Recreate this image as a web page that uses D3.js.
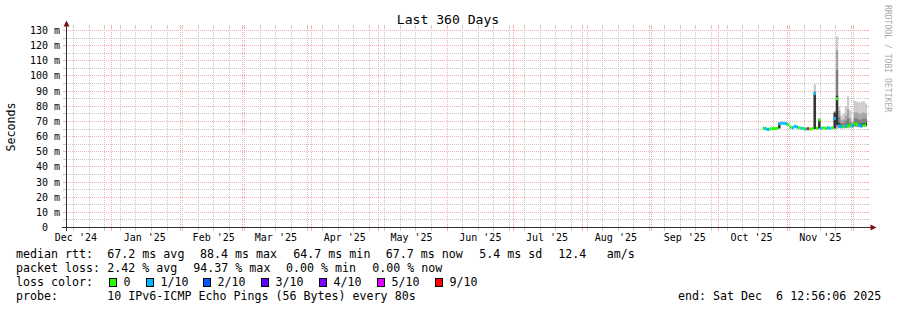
<!DOCTYPE html>
<html>
<head>
<meta charset="utf-8">
<script src="https://cdn.jsdelivr.net/npm/d3@7"></script>
<style>
  html, body { margin: 0; padding: 0; background: #fff; }
  svg { display: block; font-family: "DejaVu Sans Mono", monospace; }
  text { white-space: pre; }
</style>
</head>
<body>
<svg id="chart" width="897" height="310"></svg>
<script>
// one value per day (median rtt in ms, loss in tenths of the 10 pings)
const days = [
  "2025-10-21","2025-10-22","2025-10-23","2025-10-24","2025-10-25","2025-10-26","2025-10-27",
  "2025-10-28","2025-10-29","2025-10-30","2025-10-31","2025-11-01","2025-11-02","2025-11-03",
  "2025-11-04","2025-11-05","2025-11-06","2025-11-07","2025-11-08","2025-11-09","2025-11-10",
  "2025-11-11","2025-11-12","2025-11-13","2025-11-14","2025-11-15","2025-11-16","2025-11-17",
  "2025-11-18","2025-11-19","2025-11-20","2025-11-21","2025-11-22","2025-11-23","2025-11-24",
  "2025-11-25","2025-11-26","2025-11-27","2025-11-28","2025-11-29","2025-11-30","2025-12-01",
  "2025-12-02","2025-12-03","2025-12-04","2025-12-05","2025-12-06"
];
const median = [
  65.5, 65.2, 64.7, 65.0, 65.3, 65.3, 65.5,
  68.5, 68.8, 68.8, 68.5, 68.0, 66.3, 65.8,
  66.8, 66.3, 65.8, 65.5, 65.3, 65.0, 65.2,
  65.0, 65.3, 88.4, 65.5, 71.0, 65.5, 65.8,
  65.5, 65.8, 65.5, 65.8, 72.0, 85.0, 67.0,
  66.5, 66.5, 67.0, 67.0, 67.5, 67.0, 68.5,
  68.0, 67.5, 67.0, 67.5, 67.7
];
const lossTenths = [
  0, 1, 1, 0, 0, 0, 0,
  1, 1, 1, 1, 0, 0, 1,
  1, 1, 0, 1, 0, 1, 9,
  0, 0, 1, 0, 0, 1, 0,
  0, 1, 1, 0, 1, 0, 1,
  1, 0, 1, 0, 0, 1, 0,
  0, 1, 1, 0, 0
];

// smoke: sorted pings, outer pair .. inner pair, only days that show spread
const smokeDays = [
  "2025-10-28","2025-11-13","2025-11-15","2025-11-22","2025-11-23","2025-11-24",
  "2025-11-25","2025-11-26","2025-11-27","2025-11-28","2025-11-29","2025-11-30",
  "2025-12-01","2025-12-02","2025-12-03","2025-12-04","2025-12-05","2025-12-06"
];
const ping1  = [65.3, 64.8, 65.0, 65.2, 65.0, 65.5, 65.5, 65.5, 65.5, 65.5, 65.8, 66.0, 66.5, 66.3, 66.0, 66.0, 66.5, 66.5];
const ping10 = [69.2, 94.5, 72.0, 77.0, 126.0, 80.0, 74.0, 75.0, 80.0, 86.5, 77.0, 70.0, 83.5, 83.0, 82.5, 83.0, 83.5, 82.0];
const ping2  = [65.4, 65.0, 65.2, 65.3, 66.0, 65.8, 65.8, 65.8, 65.8, 66.0, 66.0, 66.2, 66.8, 66.5, 66.3, 66.3, 66.8, 66.8];
const ping9  = [69.0, 90.0, 71.5, 76.5, 117.0, 77.0, 71.0, 71.5, 74.0, 78.0, 72.0, 69.0, 76.0, 76.0, 75.0, 75.5, 76.0, 75.0];
const ping3  = [65.5, 65.0, 65.3, 65.4, 67.0, 66.0, 66.0, 66.0, 66.0, 66.3, 66.5, 66.5, 67.0, 66.8, 66.5, 66.5, 67.0, 67.0];
const ping8  = [68.8, 89.0, 71.2, 76.0, 104.0, 73.0, 69.0, 69.0, 70.5, 72.0, 69.5, 68.3, 72.0, 72.0, 71.0, 71.5, 72.0, 71.5];
const ping5  = [65.5, 65.0, 65.5, 65.5, 68.0, 66.5, 66.3, 66.3, 66.5, 66.5, 67.0, 66.8, 67.5, 67.3, 67.0, 66.8, 67.3, 67.3];
const ping6  = [68.5, 88.4, 71.0, 75.7, 87.0, 69.0, 67.0, 67.0, 67.5, 68.0, 68.0, 67.5, 69.5, 69.0, 68.5, 68.5, 69.0, 69.0];

const yTicks = [0, 10, 20, 30, 40, 50, 60, 70, 80, 90, 100, 110, 120, 130];
const monthLabels = ["Dec '24","Jan '25","Feb '25","Mar '25","Apr '25","May '25",
                     "Jun '25","Jul '25","Aug '25","Sep '25","Oct '25","Nov '25"];

const lossLabels = ["0", "1/10", "2/10", "3/10", "4/10", "5/10", "9/10"];
const lossColors = ["#26ff00", "#00b8ff", "#0059ff", "#5e00ff", "#7e00ff", "#dd00ff", "#ff0000"];
const lossSwatchX = [109, 146, 203, 261, 319, 377, 435];

const smokeColors = ["#cacaca", "#a4a4a4", "#7e7e7e", "#323232"];

const start = new Date(2024, 11, 11, 12, 56, 6);
const end = new Date(2025, 11, 6, 12, 56, 6);

const parse = d3.timeParse("%Y-%m-%d");
const svg = d3.select("#chart");

const x = d3.scaleTime().domain([start, end]).range([66, 866]);
const y = d3.scaleLinear().domain([0, 132]).range([227.5, 27.5]);
const lossColor = d3.scaleThreshold().domain([1, 2, 3, 4, 5, 6]).range(lossColors);

const px = v => Math.floor(v) + 0.5;
const GRID = "#c8c8c8", MGRID = "#f4b0b0";

svg.append("rect").attr("width", 897).attr("height", 310).attr("fill", "#fff");

// grid
const grid = svg.append("g").attr("shape-rendering", "crispEdges");
const yMinor = d3.range(5, 132, 10);
function hline(v, color) {
  const yy = px(y(v));
  grid.append("line").attr("x1", 66).attr("x2", 866).attr("y1", yy).attr("y2", yy)
    .attr("stroke", color).attr("stroke-dasharray", "1,1");
  grid.append("line").attr("x1", 63).attr("x2", 66).attr("y1", yy).attr("y2", yy).attr("stroke", color);
  grid.append("line").attr("x1", 866).attr("x2", 869).attr("y1", yy).attr("y2", yy).attr("stroke", color);
}
function vline(d, color) {
  const xx = px(x(d));
  grid.append("line").attr("x1", xx).attr("x2", xx).attr("y1", 27.5).attr("y2", 227.5)
    .attr("stroke", color).attr("stroke-dasharray", "1,1");
  grid.append("line").attr("x1", xx).attr("x2", xx).attr("y1", 25).attr("y2", 27.5).attr("stroke", color);
  grid.append("line").attr("x1", xx).attr("x2", xx).attr("y1", 227.5).attr("y2", 231).attr("stroke", color);
}
yMinor.forEach(v => hline(v, GRID));
d3.timeSunday.range(start, end).forEach(d => vline(d, GRID));
yTicks.filter(v => v > 0).forEach(v => hline(v, MGRID));
const months = d3.timeMonth.range(start, end);
months.forEach(d => vline(d, MGRID));

// smoke
const plot = svg.append("g");
const bands = [[ping1, ping10], [ping2, ping9], [ping3, ping8], [ping5, ping6]];
bands.forEach(([lo, hi], b) => {
  plot.append("g").selectAll("rect")
    .data(smokeDays.map((s, i) => ({ d: parse(s), lo: lo[i], hi: hi[i] })))
    .join("rect")
    .attr("x", d => x(d.d))
    .attr("width", d => x(d3.timeDay.offset(d.d, 1)) - x(d.d))
    .attr("y", d => y(d.hi))
    .attr("height", d => y(d.lo) - y(d.hi))
    .attr("fill", smokeColors[b]);
});

// median, coloured by loss
plot.append("g").selectAll("rect")
  .data(days.map((s, i) => ({ d: parse(s), m: median[i], l: lossTenths[i] })))
  .join("rect")
  .attr("x", d => x(d.d))
  .attr("width", d => Math.min(x(d3.timeDay.offset(d.d, 1)), 866) - x(d.d))
  .attr("y", d => y(d.m) - 1.5)
  .attr("height", 3)
  .attr("fill", d => lossColor(d.l));

// axes
const axes = svg.append("g").attr("shape-rendering", "crispEdges");
axes.append("line").attr("x1", 66.5).attr("x2", 66.5).attr("y1", 231).attr("y2", 26).attr("stroke", "#303030");
axes.append("line").attr("x1", 62).attr("x2", 871).attr("y1", 227.5).attr("y2", 227.5).attr("stroke", "#303030");
svg.append("path").attr("d", "M63.5,26.5L69.5,26.5L66.5,20.5Z").attr("fill", "#7f1414");
svg.append("path").attr("d", "M870.5,224.5L870.5,230.5L876.5,227.5Z").attr("fill", "#7f1414");

// tick labels
svg.append("g").selectAll("text").data(yTicks).join("text")
  .attr("x", v => v === 0 ? 48 : 60)
  .attr("y", v => px(y(v)) + 3.8)
  .attr("text-anchor", "end")
  .attr("font-size", "10px")
  .attr("fill", "#000")
  .text(v => v === 0 ? "0" : `${v} m`);

const labelMonths = [d3.timeMonth.floor(start)].concat(months.slice(0, monthLabels.length - 1));
svg.append("g").selectAll("text").data(labelMonths)
  .join("text")
  .attr("x", d => x(d3.timeDay.offset(d, 15)))
  .attr("y", 241)
  .attr("text-anchor", "middle")
  .attr("font-size", "10px")
  .attr("fill", "#000")
  .text((d, i) => monthLabels[i]);

// titles
svg.append("text").attr("x", 448).attr("y", 24).attr("text-anchor", "middle")
  .attr("font-size", "13.1px").attr("fill", "#000").text("Last 360 Days");
svg.append("text").attr("transform", "translate(14.5,127) rotate(-90)").attr("text-anchor", "middle")
  .attr("font-size", "11.6px").attr("fill", "#000").text("Seconds");
svg.append("text").attr("transform", "translate(885,5) rotate(90)")
  .attr("font-size", "8.1px").attr("fill", "#aaaaaa").text("RRDTOOL / TOBI OETIKER");

// legend
const legendRows = [
  { y: 258, items: [[16, "median rtt:"], [107.3, "67.2 ms avg"], [200, "88.4 ms max"], [293.3, "64.7 ms min"],
                    [385.7, "67.7 ms now"], [479.3, "5.4 ms sd"], [558.3, "12.4"], [606.7, "am/s"]] },
  { y: 272, items: [[16, "packet loss:"], [107.3, "2.42 % avg"], [193.3, "94.37 % max"], [286, "0.00 % min"],
                    [372.3, "0.00 % now"]] },
  { y: 286, items: [[16, "loss color:"]] },
  { y: 300, items: [[16, "probe:"], [107.3, "10 IPv6-ICMP Echo Pings (56 Bytes) every 80s"],
                    [678, "end: Sat Dec  6 12:56:06 2025"]] }
];
const legend = svg.append("g").attr("font-size", "11.65px").attr("fill", "#000");
legendRows.forEach(r => {
  r.items.forEach(([lx, t]) => legend.append("text").attr("x", lx).attr("y", r.y).text(t));
});
lossLabels.forEach((lab, i) => {
  legend.append("rect").attr("x", lossSwatchX[i] + 0.5).attr("y", 278.5).attr("width", 7).attr("height", 8)
    .attr("fill", lossColors[i]).attr("stroke", "#000").attr("stroke-width", 1)
    .attr("shape-rendering", "crispEdges");
  legend.append("text").attr("x", lossSwatchX[i] + 14.5).attr("y", 286).text(lab);
});
</script>
</body>
</html>
